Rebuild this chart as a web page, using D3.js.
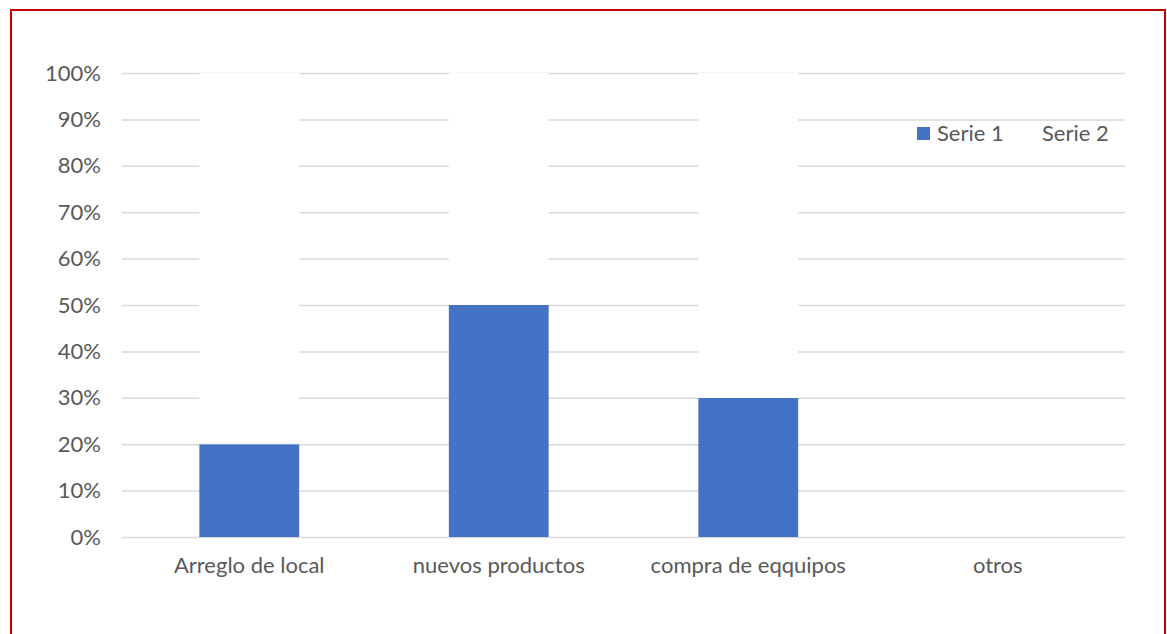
<!DOCTYPE html>
<html><head><meta charset="utf-8">
<script src="https://cdn.jsdelivr.net/npm/d3@7"></script>
<style>body{margin:0;background:#fff;}svg{display:block;}</style>
</head><body>
<svg id="c" width="1167" height="634"></svg>
<script>
const categories = ["Arreglo de local", "nuevos productos", "compra de eqquipos", "otros"];
const serie1 = [0.20, 0.50, 0.30, 0];
const serie2 = [0.80, 0.50, 0.70, 0];
const seriesNames = ["Serie 1", "Serie 2"];
const seriesColors = ["#4472C4", "#FFFFFF"];
const yTicks = [0,0.1,0.2,0.3,0.4,0.5,0.6,0.7,0.8,0.9,1.0];

(function(){
const svg = d3.select("#c");
const font = "Lato, 'Open Sans', sans-serif";
svg.append("rect").attr("x",11).attr("y",10).attr("width",1154).attr("height",640)
  .attr("fill","none").attr("stroke","#C00000").attr("stroke-width",2);

const pLeft=122, pRight=1125, pTop=73, pBottom=537;
const x = d3.scaleBand().domain(categories).range([pLeft,pRight]).paddingInner(0.6).paddingOuter(0.31);
const y = d3.scaleLinear().domain([0,1]).range([pBottom,pTop]);

const yAxis = d3.axisLeft(y).tickValues(yTicks).tickFormat(d3.format(".0%")).tickSize(-(pRight-pLeft)).tickPadding(21);
const gy = svg.append("g").attr("transform",`translate(${pLeft},0)`).call(yAxis);
gy.select(".domain").remove();
gy.selectAll(".tick line").attr("stroke","#D9D9D9").attr("stroke-width",1.5);
gy.selectAll(".tick text").attr("fill","#595959").style("font-family",font).style("font-size","22px");

const data = categories.map((c,i)=>({cat:c, "Serie 1":serie1[i], "Serie 2":serie2[i]}));
const stack = d3.stack().keys(seriesNames)(data);
svg.append("g").selectAll("g").data(stack).join("g")
  .attr("fill",(d,i)=>seriesColors[i])
  .selectAll("rect").data(d=>d).join("rect")
  .attr("x",d=>x(d.data.cat)).attr("width",x.bandwidth())
  .attr("y",d=>y(d[1])).attr("height",d=>y(d[0])-y(d[1]));

const xAxis = d3.axisBottom(x).tickSize(0).tickPadding(20);
const gx = svg.append("g").attr("transform",`translate(0,${pBottom})`).call(xAxis);
gx.select(".domain").remove();
gx.selectAll(".tick text").attr("fill","#595959").style("font-family",font).style("font-size","22px");

const legendX = [917, 1022];
const lg = svg.append("g").selectAll("g").data(seriesNames).join("g")
  .attr("transform",(d,i)=>`translate(${legendX[i]},127)`);
lg.append("rect").attr("width",13).attr("height",13).attr("fill",(d,i)=>seriesColors[i]);
lg.append("text").attr("x",20).attr("y",14).text(d=>d)
  .attr("fill","#595959").style("font-family",font).style("font-size","22px");
})();
</script>
</body></html>
